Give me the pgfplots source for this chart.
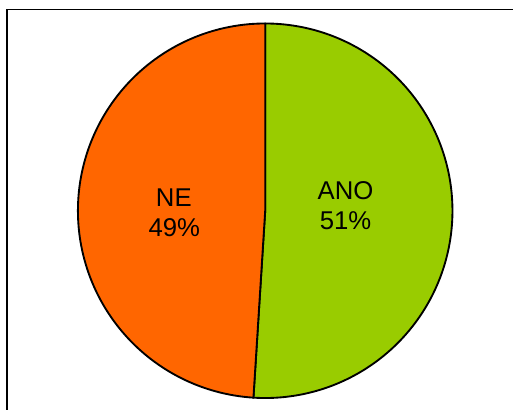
\documentclass[border=0pt]{standalone}
\usepackage{pgfplots}
\pgfplotsset{compat=1.18}
\usepackage{pgfplotstable}
\usepackage{fontspec}
\setmainfont{Liberation Sans}
\definecolor{pieorange}{HTML}{FF6600}
\definecolor{piegreen}{HTML}{99CC00}

% share of answers in percent
\pgfplotstableread{
label value
ANO   51
NE    49
}\piedata

\begin{document}
\begin{tikzpicture}
\pgfplotstablegetelem{0}{value}\of\piedata \let\vano\pgfplotsretval
\pgfplotstablegetelem{1}{value}\of\piedata \let\vne\pgfplotsretval
\pgfmathsetmacro{\split}{90-3.6*\vano}   % ANO runs clockwise from the top
\pgfmathsetmacro{\splitne}{\split+360}
\def\cx{265.5}\def\cy{199}\def\r{187.5}
\begin{axis}[
    scale only axis,
    width=385.5pt, height=307.5pt,
    xmin=0, xmax=514, ymin=0, ymax=410,
    hide axis,
    clip=false,
]
% frame (only top and left edges fall inside the picture)
\path (axis cs:0,0) rectangle (axis cs:514,410);
\draw[line width=0.9pt] (axis cs:7,0) -- (axis cs:7,400.5) -- (axis cs:514,400.5);

\addplot[fill=piegreen, draw=black, line width=1.4pt, line join=round,
    domain=\split:90, samples=150, variable=\t]
    ({\cx+\r*cos(\t)}, {\cy+\r*sin(\t)}) -- (axis cs:\cx,\cy) -- cycle;
\addplot[fill=pieorange, draw=black, line width=1.4pt, line join=round,
    domain=90:\splitne, samples=150, variable=\t]
    ({\cx+\r*cos(\t)}, {\cy+\r*sin(\t)}) -- (axis cs:\cx,\cy) -- cycle;

\begin{scope}[every node/.style={font=\fontsize{19.3}{23}\selectfont, anchor=base, inner sep=0pt}]
\node at (axis cs:174,203.3) {NE};
\node at (axis cs:174.5,173.3) {\vne\%};
\node at (axis cs:346,210) {ANO};
\node at (axis cs:346,180) {\vano\%};
\end{scope}
\end{axis}
\end{tikzpicture}
\end{document}
